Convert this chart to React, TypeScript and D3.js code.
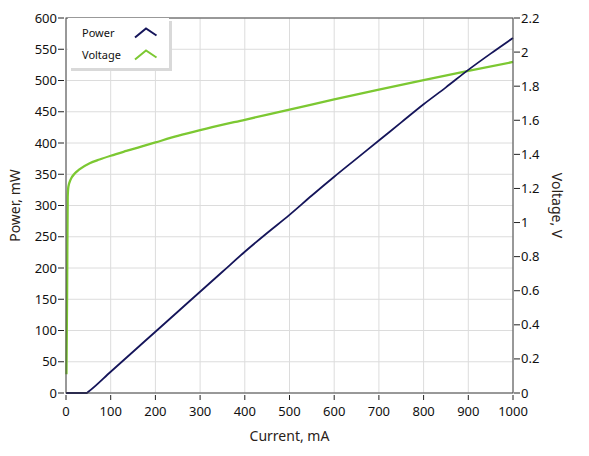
import React from "react";
import * as d3 from "d3";

// power curve (mA -> mW)
const powerCurrent = [0, 25, 46, 50, 100, 150, 200, 250, 300, 350, 400, 450, 500, 550, 600, 650, 700, 750, 800, 850, 900, 950, 1000];
const powerValues = [0, 0, 0, 2, 34, 66, 98, 130, 162, 194, 226, 256, 285, 316, 346, 375, 404, 433, 462, 489, 517, 543, 568];

// voltage curve (mA -> V)
const voltCurrent = [1, 2.5, 3.8, 5.3, 10, 20, 30, 53, 75, 100, 135, 170, 200, 250, 300, 400, 500, 600, 700, 800, 900, 1000];
const voltValues = [0.11, 0.6, 1.15, 1.21, 1.25, 1.289, 1.312, 1.348, 1.37, 1.392, 1.42, 1.447, 1.47, 1.508, 1.542, 1.603, 1.662, 1.722, 1.78, 1.836, 1.89, 1.942];

const xTicks = [0, 100, 200, 300, 400, 500, 600, 700, 800, 900, 1000];
const powerTicks = [0, 50, 100, 150, 200, 250, 300, 350, 400, 450, 500, 550, 600];
const voltTicks = [0, 0.2, 0.4, 0.6, 0.8, 1, 1.2, 1.4, 1.6, 1.8, 2, 2.2];

const legendItems = [
  { name: "Power", color: "#15155a" },
  { name: "Voltage", color: "#7cc832" },
];

const W = 589;
const H = 456;
const margin = { top: 18, right: 76, bottom: 63, left: 66 };
const font = "'Noto Sans', 'Open Sans', sans-serif";

export default function App() {
  const iw = W - margin.left - margin.right;
  const ih = H - margin.top - margin.bottom;

  const x = d3.scaleLinear().domain([0, 1000]).range([0, iw]);
  const yP = d3.scaleLinear().domain([0, 600]).range([ih, 0]);
  const yV = d3.scaleLinear().domain([0, 2.2]).range([ih, 0]);

  const powerLine = d3
    .line<number>()
    .x((d, i) => x(powerCurrent[i]))
    .y((d) => yP(d))
    .curve(d3.curveMonotoneX);

  const voltLine = d3
    .line<number>()
    .x((d, i) => x(voltCurrent[i]))
    .y((d) => yV(d))
    .curve(d3.curveMonotoneX);

  const fmtV = (v: number) => (Number.isInteger(v) ? String(v) : v.toFixed(1));

  return (
    <svg width={W} height={H} style={{ position: "absolute", left: 0, top: 0, background: "#fff" }} fontFamily={font}>
      <g transform={`translate(${margin.left},${margin.top})`}>
        {/* grid */}
        {xTicks.map((t) => (
          <line key={"gx" + t} x1={x(t)} x2={x(t)} y1={0} y2={ih} stroke="#dcdcdc" strokeWidth={1} />
        ))}
        {powerTicks.map((t) => (
          <line key={"gy" + t} x1={0} x2={iw} y1={yP(t)} y2={yP(t)} stroke="#dcdcdc" strokeWidth={1} />
        ))}

        {/* lines */}
        <path d={voltLine(voltValues) || ""} fill="none" stroke={legendItems[1].color} strokeWidth={2.3} />
        <path d={powerLine(powerValues) || ""} fill="none" stroke={legendItems[0].color} strokeWidth={1.8} />

        {/* frame */}
        <rect x={0} y={0} width={iw} height={ih} fill="none" stroke="#444" strokeWidth={1} />

        {/* left axis */}
        {powerTicks.map((t) => (
          <g key={"lp" + t} transform={`translate(0,${yP(t)})`}>
            <line x1={-8} x2={-2} stroke="#222" />
            <text x={-9} dy="0.35em" textAnchor="end" fontSize={13} fill="#111">
              {t}
            </text>
          </g>
        ))}

        {/* right axis */}
        {voltTicks.map((t) => (
          <g key={"rv" + t} transform={`translate(${iw},${yV(t)})`}>
            <line x1={1} x2={7} stroke="#222" />
            <text x={8} dy="0.35em" textAnchor="start" fontSize={13} fill="#111">
              {fmtV(t)}
            </text>
          </g>
        ))}

        {/* bottom axis */}
        {xTicks.map((t) => (
          <g key={"bx" + t} transform={`translate(${x(t)},${ih})`}>
            <line y1={2} y2={7} stroke="#222" />
            <text y={23} textAnchor="middle" fontSize={13} fill="#111">
              {t}
            </text>
          </g>
        ))}

        {/* axis titles */}
        <text transform={`translate(-46,${ih / 2}) rotate(-90)`} textAnchor="middle" fontSize={14} fill="#2a2218">
          Power, mW
        </text>
        <text transform={`translate(${iw + 39},${ih / 2}) rotate(90)`} textAnchor="middle" fontSize={14} fill="#2a2218">
          Voltage, V
        </text>
        <text x={iw / 2} y={ih + 48} textAnchor="middle" fontSize={14} fill="#2a2218">
          Current, mA
        </text>

        {/* legend */}
        <g transform="translate(2,0)">
          <rect x={3} y={3} width={101} height={50} fill="#d9d9d9" />
          <rect x={0} y={0} width={101} height={50} fill="#fff" />
          {legendItems.map((it, i) => (
            <g key={it.name} transform={`translate(0,${15 + i * 22})`}>
              <text x={14} dy="0.35em" fontSize={11} fill="#111">
                {it.name}
              </text>
              <path d="M67,4.5 L78,-4.5 L88.5,2.5" fill="none" stroke={it.color} strokeWidth={2} />
            </g>
          ))}
        </g>
      </g>
    </svg>
  );
}
